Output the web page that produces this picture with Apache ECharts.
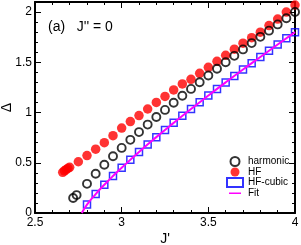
<!DOCTYPE html>
<html>
<head>
<meta charset="utf-8">
<script src="https://cdn.jsdelivr.net/npm/echarts@6/dist/echarts.min.js"></script>
<style>
html,body{margin:0;padding:0;background:#fff;}
#c{width:301px;height:245px;}
</style>
</head>
<body>
<div id="c"></div>
<script>
// Data
var harmonicJ = [2.72, 2.74, 2.80, 2.85, 2.90, 2.95, 3.00, 3.05, 3.10, 3.15, 3.20, 3.25, 3.30, 3.35, 3.40, 3.45, 3.50, 3.55, 3.60, 3.65, 3.70, 3.75, 3.80, 3.85, 3.90, 3.95, 4.00];
var harmonicD = [0.15, 0.178, 0.29, 0.39, 0.48, 0.565, 0.648, 0.728, 0.805, 0.88, 0.955, 1.026, 1.097, 1.167, 1.235, 1.302, 1.369, 1.435, 1.50, 1.564, 1.628, 1.691, 1.753, 1.815, 1.877, 1.938, 2.00];

var hfJ = [2.66, 2.67, 2.68, 2.69, 2.70, 2.75, 2.80, 2.85, 2.90, 2.95, 3.00, 3.05, 3.10, 3.15, 3.20, 3.25, 3.30, 3.35, 3.40, 3.45, 3.50, 3.55, 3.60, 3.65, 3.70, 3.75, 3.80, 3.85, 3.90, 3.95, 4.00];
var hfD = [0.405, 0.42, 0.432, 0.445, 0.455, 0.51, 0.572, 0.635, 0.70, 0.77, 0.845, 0.91, 0.97, 1.035, 1.10, 1.16, 1.225, 1.285, 1.33, 1.39, 1.45, 1.51, 1.57, 1.63, 1.69, 1.745, 1.80, 1.865, 1.93, 2.00, 2.07];

var cubicJ = [2.80, 2.85, 2.90, 2.95, 3.00, 3.05, 3.10, 3.15, 3.20, 3.25, 3.30, 3.35, 3.40, 3.45, 3.50, 3.55, 3.60, 3.65, 3.70, 3.75, 3.80, 3.85, 3.90, 3.95, 4.00];
var cubicD = [0.084, 0.188, 0.281, 0.368, 0.45, 0.530, 0.607, 0.682, 0.755, 0.827, 0.897, 0.967, 1.035, 1.102, 1.169, 1.235, 1.300, 1.364, 1.428, 1.491, 1.553, 1.615, 1.677, 1.738, 1.80];

var fitJ = [2.77, 2.80, 2.85, 2.90, 2.95, 3.00, 3.10, 3.20, 3.30, 3.40, 3.50, 3.60, 3.70, 3.80, 3.90, 4.00];
var fitD = [0.0, 0.084, 0.188, 0.281, 0.368, 0.45, 0.607, 0.755, 0.897, 1.035, 1.169, 1.300, 1.428, 1.553, 1.677, 1.80];

var xTicks = [2.5, 3, 3.5, 4];
var yTicks = [0, 0.5, 1, 1.5, 2];
var seriesNames = ['harmonic', 'HF', 'HF-cubic', 'Fit'];

function pairs(a, b) { return a.map(function (v, i) { return [v, b[i]]; }); }

var FONT = 'Liberation Sans';
var chart = echarts.init(document.getElementById('c'), null, {renderer: 'canvas'});

function xAx(pos, show) {
  return {
    type: 'value', position: pos, min: 2.5, max: 4, interval: 0.5,
    axisLine: {show: true, onZero: false, lineStyle: {color: '#000', width: 2}},
    axisTick: {show: true, inside: true, length: 6, lineStyle: {color: '#000', width: 1}},
    minorTick: {show: true, splitNumber: 5, length: 3, lineStyle: {color: '#000', width: 1}},
    splitLine: {show: false},
    axisLabel: {show: show, color: '#000', fontSize: 12, fontFamily: FONT, margin: 4,
      hideOverlap: false,
      formatter: function (v) { return xTicks.indexOf(v) >= 0 ? String(v) : ''; }},
    name: show ? "J'" : '', nameLocation: 'middle', nameGap: 19, nameMoveOverlap: false,
    nameTextStyle: {color: '#000', fontSize: 14, fontFamily: FONT}
  };
}
function yAx(pos, show) {
  return {
    type: 'value', position: pos, min: 0, max: 2.1, interval: 0.5,
    axisLine: {show: true, onZero: false, lineStyle: {color: '#000', width: 2}},
    axisTick: {show: true, inside: true, length: 6, lineStyle: {color: '#000', width: 1}},
    minorTick: {show: true, splitNumber: 5, length: 3, lineStyle: {color: '#000', width: 1}},
    splitLine: {show: false},
    axisLabel: {show: show, color: '#000', fontSize: 12, fontFamily: FONT, margin: 3,
      showMaxLabel: false, hideOverlap: false,
      verticalAlignMinLabel: 'middle', verticalAlignMaxLabel: 'middle',
      formatter: function (v) { return yTicks.indexOf(v) >= 0 ? String(v) : ''; }},
    name: show ? 'Δ' : '', nameLocation: 'middle', nameGap: 21, nameMoveOverlap: false,
    nameTextStyle: {color: '#000', fontSize: 14, fontFamily: FONT}
  };
}

chart.setOption({
  animation: false,
  backgroundColor: '#fff',
  grid: {left: 35, right: 6, top: 2, bottom: 32, containLabel: false, outerBoundsMode: 'none'},
  title: {
    text: "(a)   J'' = 0", left: 48, top: 20, padding: 0,
    textStyle: {color: '#000', fontSize: 14, fontWeight: 'normal', fontFamily: FONT}
  },
  legend: {
    orient: 'vertical', left: 226, top: 156, padding: 0,
    itemWidth: 16, itemHeight: 9, itemGap: 0,
    data: [
      {name: seriesNames[0]},
      {name: seriesNames[1]},
      {name: seriesNames[2]},
      {name: seriesNames[3], icon: 'path://M2,0 L2.01,0 M2,4 L14,4 L14,5.6 L2,5.6 Z M2,9 L2.01,9 M0,4.8 L0.01,4.8 M16,4.8 L16.01,4.8'}
    ],
    textStyle: {color: '#000', fontSize: 10, fontFamily: FONT, lineHeight: 9}
  },
  xAxis: [xAx('bottom', true), xAx('top', false)],
  yAxis: [yAx('left', true), yAx('right', false)],
  series: [
    {name: seriesNames[0], type: 'scatter', symbol: 'circle', symbolSize: 8,
     itemStyle: {color: 'rgba(255,255,255,0)', borderColor: '#000', borderWidth: 1.9},
     data: pairs(harmonicJ, harmonicD), z: 3},
    {name: seriesNames[1], type: 'scatter', symbol: 'circle', symbolSize: 9.5,
     itemStyle: {color: '#ff0000', borderWidth: 0},
     data: pairs(hfJ, hfD), z: 2},
    {name: seriesNames[2], type: 'scatter', symbol: 'rect', symbolSize: 7,
     itemStyle: {color: 'rgba(255,255,255,0)', borderColor: '#0000ff', borderWidth: 1.5},
     data: pairs(cubicJ, cubicD), z: 4},
    {name: seriesNames[3], type: 'line', symbol: 'none', showSymbol: false, smooth: true,
     lineStyle: {color: '#ff00ff', width: 2}, itemStyle: {color: '#ff00ff'},
     data: pairs(fitJ, fitD), z: 5, clip: true}
  ]
});
</script>
</body>
</html>
